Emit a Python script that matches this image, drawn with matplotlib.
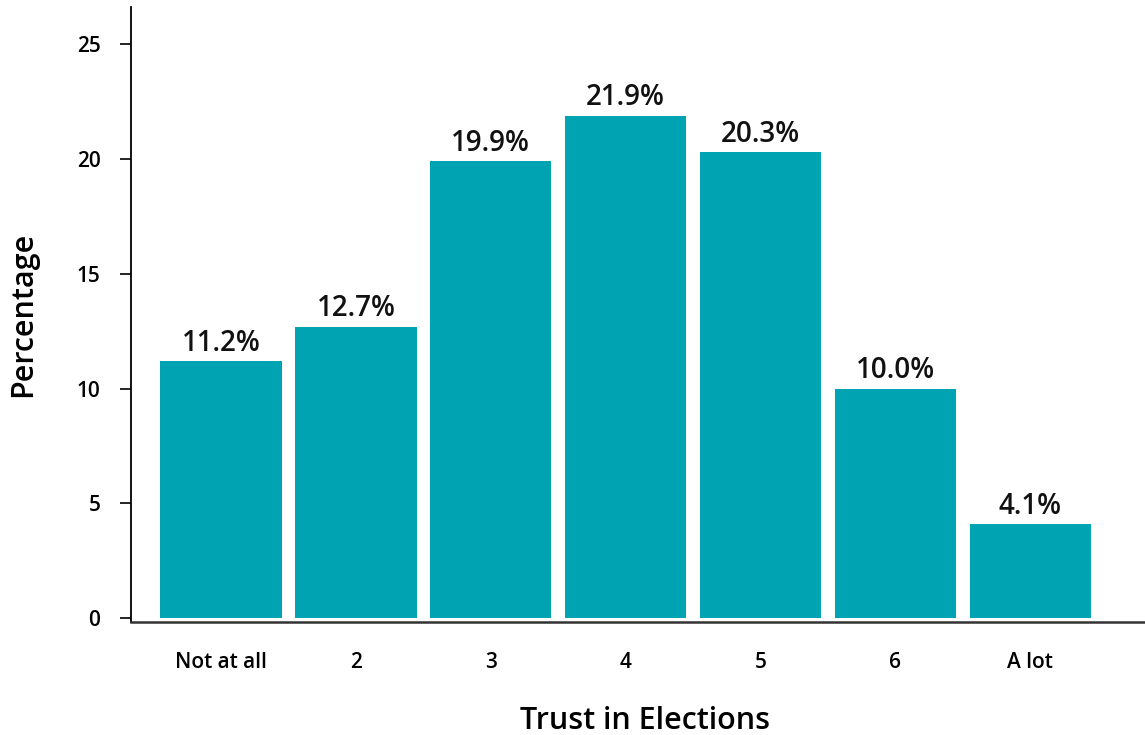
import matplotlib
matplotlib.use("Agg")
import matplotlib.pyplot as plt

categories = ["Not at all", "2", "3", "4", "5", "6", "A lot"]
values = [11.2, 12.7, 19.9, 21.9, 20.3, 10.0, 4.1]
yticks = [0, 5, 10, 15, 20, 25]

plt.rcParams['font.family'] = ['Open Sans', 'DejaVu Sans']

fig = plt.figure(figsize=(11.45, 7.35), dpi=100)
ax = fig.add_axes([131/1145, 113.3/735, 1 - 131/1145, (728 - 113.3)/735])

x = list(range(len(categories)))
bars = ax.bar(x, values, width=0.9, color="#00A3B1")
for xi, v in zip(x, values):
    ax.text(xi, v + 0.15, f"{v:.1f}%", ha="center", va="bottom",
            fontsize=20, fontweight="semibold", color="#111111")

ax.set_xlim(-0.667, 6.85)
ax.set_ylim(-0.16, 26.63)
ax.set_xticks(x)
ax.set_xticklabels(categories, fontsize=15, fontweight="semibold")
ax.set_yticks(yticks)
ax.set_yticklabels([str(t) for t in yticks], fontsize=15, fontweight="semibold")
ax.tick_params(axis="x", length=0, pad=22)
ax.tick_params(axis="y", length=8, width=1.2, pad=14)
for s in ["top", "right"]:
    ax.spines[s].set_visible(False)
ax.spines["left"].set_linewidth(1.3)
ax.spines["bottom"].set_linewidth(1.8)
ax.spines["bottom"].set_color("#333333")

ax.set_xlabel("Trust in Elections", fontsize=22, fontweight="semibold")
ax.xaxis.set_label_coords(0.507, -0.161)
ax.xaxis.label.set_va("center")
ax.set_ylabel("Percentage", fontsize=22, fontweight="semibold", labelpad=28)

fig.savefig("out.png", dpi=100)
